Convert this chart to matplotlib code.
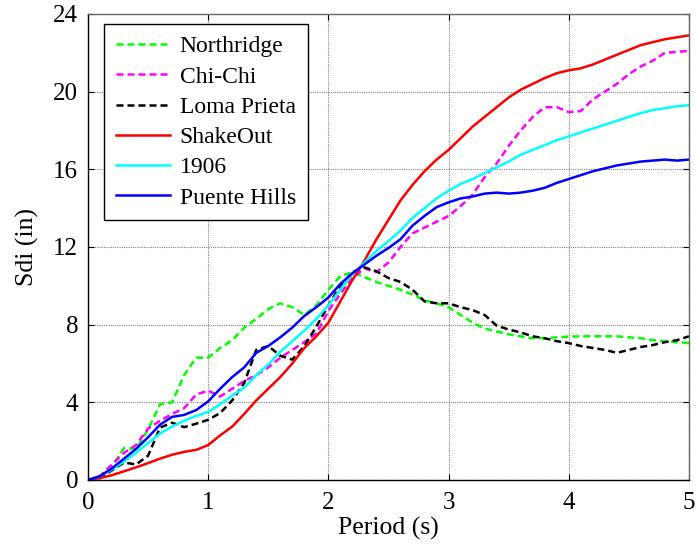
import matplotlib.pyplot as plt
import numpy as np

plt.rcParams['font.family'] = ['Liberation Serif', 'DejaVu Serif']

# period axis, 0.1 s steps
period = np.round(np.arange(0, 5.01, 0.1), 2)

northridge = [0, 0.2, 0.7, 1.65, 1.6, 2.6, 3.9, 4.0, 5.4, 6.3,
              6.3, 6.8, 7.2, 7.85, 8.3, 8.8, 9.1, 8.9, 8.5, 9.0,
              9.8, 10.5, 10.7, 10.45, 10.2, 10.0, 9.8, 9.55, 9.25, 9.1,
              8.9, 8.5, 8.1, 7.8, 7.65, 7.5, 7.4, 7.3, 7.3, 7.35,
              7.38, 7.4, 7.4, 7.4, 7.4, 7.35, 7.3, 7.2, 7.15, 7.1, 7.05]
chichi = [0, 0.2, 0.8, 1.4, 1.8, 2.65, 3.05, 3.4, 3.7, 4.4,
          4.6, 4.3, 4.7, 5.1, 5.4, 5.8, 6.3, 6.7, 7.1, 7.55,
          8.7, 9.6, 10.4, 10.9, 10.7, 11.2, 12.0, 12.7, 13.0, 13.3,
          13.6, 14.1, 14.7, 15.6, 16.3, 17.2, 18.0, 18.7, 19.2, 19.2,
          18.95, 19.0, 19.6, 20.0, 20.4, 20.9, 21.3, 21.6, 22.0, 22.05, 22.1]
loma_prieta = [0, 0.1, 0.5, 0.9, 0.8, 1.25, 2.7, 2.95, 2.72, 2.9,
               3.1, 3.45, 4.1, 5.0, 6.7, 6.9, 6.4, 6.2, 6.9, 7.9,
               9.0, 10.0, 10.7, 10.95, 10.75, 10.4, 10.2, 9.8, 9.2, 9.1,
               9.1, 8.9, 8.75, 8.5, 7.95, 7.75, 7.6, 7.4, 7.3, 7.15,
               7.05, 6.9, 6.8, 6.7, 6.55, 6.7, 6.85, 6.95, 7.1, 7.2, 7.4]
shakeout = [0, 0.1, 0.25, 0.45, 0.65, 0.87, 1.1, 1.3, 1.45, 1.55,
            1.8, 2.3, 2.75, 3.4, 4.1, 4.7, 5.3, 6.0, 6.8, 7.4,
            8.1, 9.2, 10.3, 11.3, 12.4, 13.4, 14.4, 15.2, 15.9, 16.5,
            17.0, 17.6, 18.2, 18.7, 19.2, 19.7, 20.1, 20.4, 20.7, 20.95,
            21.1, 21.2, 21.4, 21.65, 21.9, 22.15, 22.4, 22.55, 22.7, 22.8, 22.9]
sf1906 = [0, 0.2, 0.55, 0.95, 1.4, 1.9, 2.4, 2.75, 3.05, 3.3,
          3.5, 3.9, 4.35, 4.75, 5.4, 5.95, 6.6, 7.15, 7.7, 8.3,
          9.0, 9.8, 10.6, 11.2, 11.8, 12.3, 12.85, 13.5, 14.0, 14.5,
          14.9, 15.25, 15.5, 15.8, 16.1, 16.4, 16.75, 17.0, 17.25, 17.5,
          17.7, 17.9, 18.1, 18.3, 18.5, 18.7, 18.9, 19.05, 19.15, 19.25, 19.3]
puente_hills = [0, 0.2, 0.6, 1.1, 1.6, 2.2, 2.85, 3.25, 3.35, 3.6,
                4.05, 4.7, 5.3, 5.8, 6.55, 6.9, 7.35, 7.85, 8.45, 8.9,
                9.4, 10.1, 10.65, 11.1, 11.55, 11.95, 12.4, 13.1, 13.6, 14.05,
                14.3, 14.5, 14.6, 14.75, 14.8, 14.75, 14.8, 14.9, 15.05, 15.3,
                15.5, 15.7, 15.9, 16.05, 16.2, 16.3, 16.4, 16.45, 16.5, 16.45, 16.5]

series = [
    ('Northridge', northridge, '#00ff00', '--'),
    ('Chi-Chi', chichi, '#ff00ff', '--'),
    ('Loma Prieta', loma_prieta, 'black', '--'),
    ('ShakeOut', shakeout, 'red', '-'),
    ('1906', sf1906, 'cyan', '-'),
    ('Puente Hills', puente_hills, 'blue', '-'),
]

fig = plt.figure(figsize=(6.96, 5.49), dpi=100)
ax = fig.add_axes([0.1264, 0.1257, 0.8635, 0.8488])

for name, vals, col, ls in series:
    if ls == '--':
        ax.plot(period, vals, color=col, linewidth=1.8, dashes=(2.8, 1.6),
                label=name)
    else:
        ax.plot(period, vals, color=col, linewidth=1.8, label=name)

ax.set_xlim(0, 5)
ax.set_ylim(0, 24)
ax.set_xticks(np.arange(0, 6, 1))
ax.set_yticks(np.arange(0, 25, 4))
ax.grid(True, color='#808080', linestyle=(0, (1, 1)), linewidth=0.8)
ax.tick_params(direction='in', top=True, right=True, length=4,
               labelsize=18)
ax.tick_params(axis='x', pad=9)
ax.tick_params(axis='y', pad=7)
for side in ['top', 'right']:
    ax.spines[side].set_color('#666666')
for spine in ax.spines.values():
    spine.set_linewidth(1.0)

ax.set_xlabel('Period (s)', fontsize=18.5, labelpad=2)
ax.set_ylabel('Sdi (in)', fontsize=18.5, labelpad=10)

leg = ax.legend(loc='upper left', bbox_to_anchor=(0.0266, 0.9785),
                borderaxespad=0, fontsize=17, handlelength=2.3,
                handletextpad=0.4, borderpad=0.5, labelspacing=0.37,
                fancybox=False, framealpha=1)
leg.get_frame().set_edgecolor('black')
leg.get_frame().set_linewidth(1.0)

fig.savefig('out.png', dpi=100)
